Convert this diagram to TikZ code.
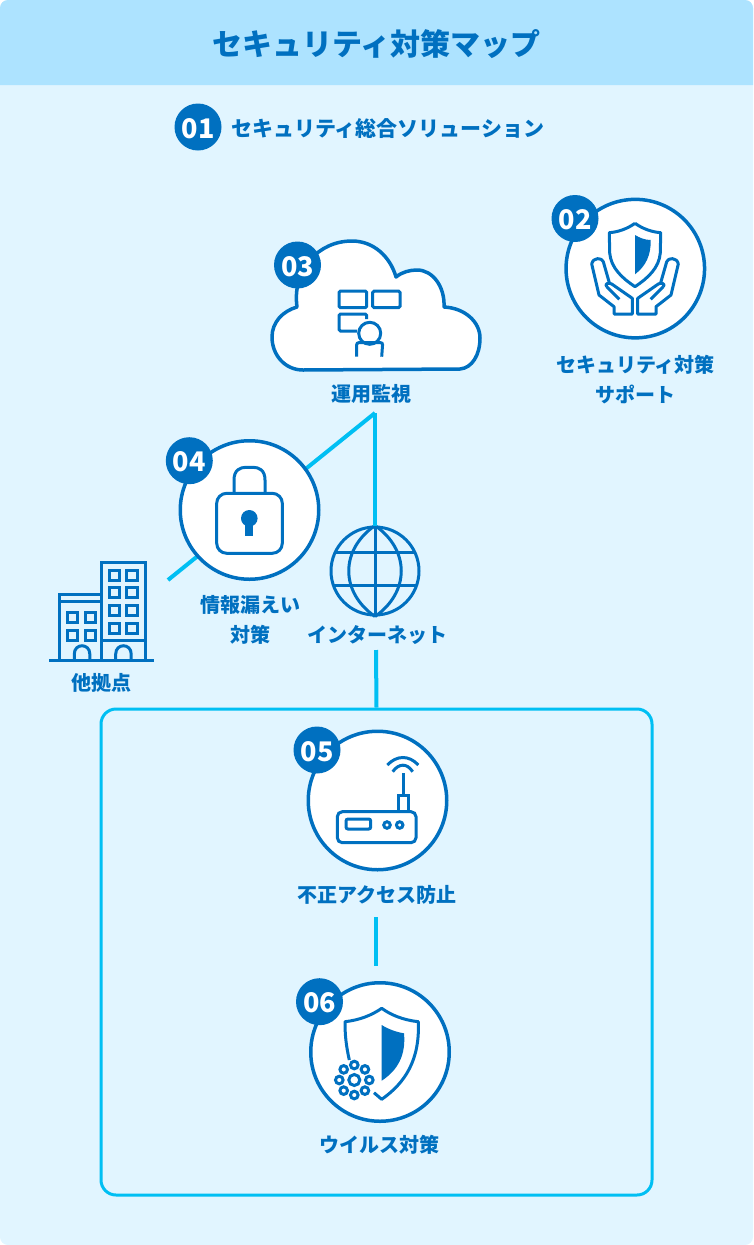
\documentclass[tikz,border=0pt]{standalone}
\usepackage{fontspec}
\setmainfont{Noto Sans CJK JP}
\definecolor{mapblue}{HTML}{0070C0}
\definecolor{maplink}{HTML}{00BFF3}
\definecolor{mappanel}{HTML}{E1F5FF}
\definecolor{maphead}{HTML}{ADE3FF}
\newcommand{\handicon}{
	\draw[iconline, line join=round] (-28.3,286.7) -- (-15.7,299.3);
	\draw[iconline, line join=round] (-25.7,282.7) -- (-31.7,261.7) .. controls (-33,257.5) and (-42,257) .. (-43.3,264) -- (-36,295) -- (-21,306.7) -- (-21,314) -- (-2.7,314) -- (-2.7,298.3) -- (-23.3,284) .. controls (-26,282) and (-31,284) .. (-28.3,286.7);
}
\begin{document}
\begin{tikzpicture}[x=1pt, y=-1pt, >=stealth,
		link/.style = {draw=maplink, line width=4pt},
		iconline/.style = {draw=mapblue, line width=3pt},
		iconcircle/.style = {circle, draw=mapblue, fill=white, line width=3.5pt, minimum size=138.5pt, inner sep=0pt},
		badge/.style = {circle, fill=mapblue, text=white, minimum size=47pt, inner sep=0pt, text height=22pt, text depth=0pt, font=\bfseries\fontsize{27}{27}\selectfont},
		maplabel/.style = {text=mapblue, align=center, inner sep=0pt, font=\bfseries\fontsize{20}{29.5}\selectfont}]
	\useasboundingbox (0,0) rectangle (754,1245);
	\fill[mappanel, rounded corners=8pt] (0,0) rectangle (753,1245);
	\fill[maphead] (0,85) [rounded corners=8pt] -- (0,0) -- (753,0) [sharp corners] -- (753,85) -- cycle;
	\node[text=mapblue, font=\bfseries\fontsize{30}{30}\selectfont] (title) at (376.5,44) {セキュリティ対策マップ};

	\node[badge] (n01) at (198,127) {01};
	\node[maplabel, anchor=west, font=\bfseries\fontsize{21}{21}\selectfont] (solution) at (231,129) {セキュリティ総合ソリューション};

	\coordinate (apex) at (375,413);
	\coordinate (branch) at (168,580);
	\coordinate (netdrop) at (376,650);
	\coordinate (routerdrop) at (376,917);
	\coordinate (virustop) at (376,966);
	\draw[link] (apex) -- (branch);

	\node[iconcircle] (support) at (635.3,268.6) {};
	\node[badge] (n02) at (575,218.5) {02};
	\node[maplabel] (supportlabel) at (635.5,379.5) {セキュリティ対策\\サポート};
	\draw[iconline, line join=round] (635,223.3) .. controls (627,229) and (618,232) .. (609.3,232.7) -- (609.7,253) .. controls (611,268) and (622,278) .. (635,286.7) .. controls (648,278) and (659,268) .. (660.3,253) -- (660.7,232.7) .. controls (652,232) and (643,229) .. (635,223.3);
	\fill[mapblue] (635,235) .. controls (640,238) and (645,240) .. (650.7,240) .. controls (651,255) and (646,266) .. (635,274.3) -- cycle;
	\begin{scope}[shift={(635,0)}]
		\handicon
	\end{scope}
	\begin{scope}[shift={(635,0)}, xscale=-1]
		\handicon
	\end{scope}

	\draw[iconline, fill=white, line width=3.5pt, line join=round] (303,370) .. controls (285,370) and (272,355) .. (272,337) .. controls (272,322) and (283,311) .. (297,307) .. controls (292,270) and (318,241) .. (352,241) .. controls (373,241) and (390,256) .. (396,277) .. controls (402,272) and (410,270) .. (417,270) .. controls (433,270) and (445,287) .. (444,307) .. controls (465,308) and (480,322) .. (480,338) .. controls (480,355) and (472,368) .. (460,369) -- cycle;
	\node[badge] (n03) at (297.5,265) {03};
	\node[maplabel] (watchlabel) at (371,393.5) {運用監視};
	\draw[iconline, rounded corners=1.5pt] (339,291) rectangle (366.7,307.7);
	\draw[iconline, rounded corners=1.5pt] (372.7,291) rectangle (400,307.7);
	\draw[iconline, rounded corners=1.5pt] (366.7,319) -- (366.7,314) -- (339,314) -- (339,331) -- (357,331);
	\node[iconline, circle, minimum size=22pt, inner sep=0pt] (operator) at (369.7,333.3) {};
	\draw[iconline, rounded corners=2pt] (356.7,356.7) -- (356.7,342.7) -- (382.7,342.7) -- (381.7,356.7);

	\node[iconcircle] (lock) at (249.5,510) {};
	\node[badge] (n04) at (189.3,460.7) {04};
	\node[maplabel] (locklabel) at (250,620) {情報漏えい\\対策};
	\draw[iconline] (234,493.3) -- (234,480) .. controls (234,470) and (240,467.3) .. (246,467.3) -- (253,467.3) .. controls (259,467.3) and (265,470) .. (265,480) -- (265,493.3);
	\draw[iconline, rounded corners=10pt] (216.7,493.3) rectangle (282.3,553.3);
	\fill[mapblue] (249.3,518.3) circle (8.3);
	\fill[mapblue] (245.3,522) rectangle (253.3,536);

	\node[iconline, circle, minimum size=88pt, inner sep=0pt] (globe) at (375,571) {};
	\draw[iconline] (globe.north) .. controls (340,550) and (340,592) .. (globe.south);
	\draw[iconline] (globe.north) .. controls (410,550) and (410,592) .. (globe.south);
	\draw[iconline] (globe.north) -- (globe.south);
	\draw[iconline] (334,552.7) -- (416,552.7);
	\draw[iconline] (334,585.3) -- (416,585.3);
	\node[maplabel] (netlabel) at (377.5,635) {インターネット};
	\draw[link] (apex) -- (globe.north);

	\draw[iconline] (49.3,660) -- (154.3,660);
	\draw[iconline] (59,660) -- (59,594) -- (101.7,594);
	\draw[iconline] (59,601.7) -- (101.7,601.7);
	\draw[iconline] (101.7,660) -- (101.7,562.3) -- (145.7,562.3) -- (145.7,660);
	\draw[iconline] (101.7,640) -- (145.7,640);
	\foreach \wx in {67.3,85.7}
		\foreach \wy in {612.3,630}
			\draw[iconline] (\wx,\wy) rectangle +(10,10);
	\foreach \wx in {109,126.7}
		\foreach \wy in {570,587.7,605.7,623.3}
			\draw[iconline] (\wx,\wy) rectangle +(10.5,10);
	\foreach \wx in {74.3,115.7}
		\draw[iconline] (\wx,660) -- (\wx,654) .. controls (\wx,643) and (\wx+15.5,643) .. (\wx+15.5,654) -- (\wx+15.5,660);
	\node[maplabel] (officelabel) at (101.5,682.5) {他拠点};

	\node[draw=maplink, fill=none, line width=3pt, rounded corners=15pt, minimum width=551pt, minimum height=486pt, inner sep=0pt] (lan) at (376.5,952) {};
	\draw[link] (netdrop) -- (lan.north);

	\node[iconcircle] (router) at (377.5,800.5) {};
	\node[badge] (n05) at (317,750) {05};
	\node[maplabel] (routerlabel) at (377,894.5) {不正アクセス防止};
	\draw[link] (routerdrop) -- (virustop);
	\draw[iconline, rounded corners=5pt] (337.3,811.7) rectangle (416,842.7);
	\draw[iconline, rounded corners=2pt] (346,819) rectangle (370.7,829);
	\node[iconline, circle, minimum size=6.5pt, inner sep=0pt] (portone) at (387,825) {};
	\node[iconline, circle, minimum size=6.5pt, inner sep=0pt] (porttwo) at (399.7,825) {};
	\draw[iconline] (398.3,811.7) -- (398.3,795) -- (408.3,795) -- (408.3,811.7);
	\draw[iconline] (403.3,795) -- (403.3,773.3);
	\draw[iconline] (392.7,771.7) .. controls (399,763) and (407,763) .. (412.7,771.7);
	\draw[iconline] (387.3,765) .. controls (397,755) and (409,755) .. (418.3,765);

	\node[iconcircle] (antivirus) at (380,1052) {};
	\node[badge] (n06) at (319.5,1001.7) {06};
	\node[maplabel] (viruslabel) at (379,1145) {ウイルス対策};
	\draw[iconline, line join=round] (349.3,1060) .. controls (346,1045) and (345,1035) .. (345,1021.7) .. controls (360,1020) and (372,1015) .. (381.7,1008.3) .. controls (391,1015) and (403,1020) .. (418.3,1021.7) .. controls (420,1060) and (405,1083) .. (381.7,1099.3) -- (374,1092.7);
	\fill[mapblue] (381.7,1025) .. controls (388,1029) and (396,1032) .. (404,1033.3) .. controls (406,1055) and (398,1070) .. (381.7,1080.7) -- cycle;
	\node[iconline, circle, minimum size=11pt, inner sep=0pt] (virus) at (354.3,1080) {};
	\foreach \ang in {0,45,...,315}
		\draw[iconline] ([shift={(\ang:15)}]virus.center) circle (3.8);
\end{tikzpicture}
\end{document}
